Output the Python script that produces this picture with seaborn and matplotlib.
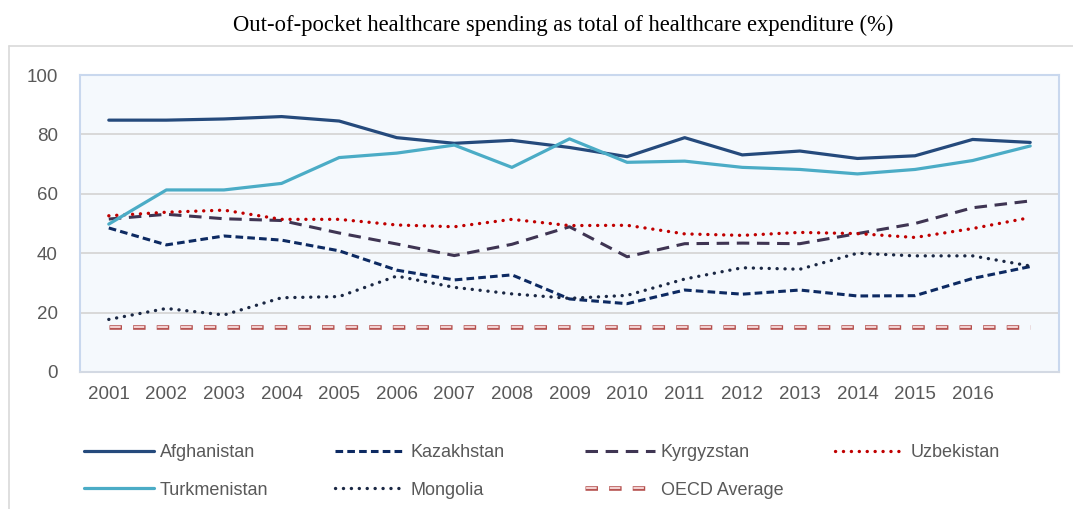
import matplotlib
matplotlib.use("Agg")
import matplotlib.pyplot as plt
from matplotlib.lines import Line2D
from matplotlib.legend_handler import HandlerTuple
import seaborn as sns
import numpy as np
import pandas as pd

# ---------------- data ----------------
years = [str(y) for y in range(2001, 2018)]
tick_labels = [str(y) for y in range(2001, 2017)] + [""]

afghanistan = [84.8, 84.8, 85.2, 86.0, 84.5, 78.9, 77.0, 78.0, 75.6, 72.5, 78.9, 73.1, 74.4, 71.9, 72.8, 78.3, 77.3]
kazakhstan = [48.5, 42.8, 45.8, 44.4, 40.8, 34.3, 31.0, 32.7, 24.6, 23.0, 27.6, 26.2, 27.6, 25.6, 25.7, 31.5, 35.5]
kyrgyzstan = [51.5, 53.1, 51.6, 51.0, 46.8, 43.1, 39.2, 43.0, 48.9, 38.8, 43.2, 43.4, 43.2, 46.6, 50.0, 55.3, 57.6]
uzbekistan = [52.6, 53.8, 54.5, 51.4, 51.4, 49.5, 48.9, 51.4, 49.3, 49.4, 46.5, 46.0, 47.0, 46.6, 45.3, 48.3, 52.0]
turkmenistan = [49.8, 61.3, 61.3, 63.5, 72.2, 73.7, 76.4, 68.9, 78.5, 70.6, 71.0, 68.9, 68.2, 66.7, 68.2, 71.2, 76.1]
mongolia = [17.7, 21.4, 19.2, 25.0, 25.4, 32.3, 28.5, 26.3, 24.8, 25.8, 31.3, 35.1, 34.6, 40.0, 39.1, 39.1, 35.7]
oecd = [15.0] * 17

title = "Out-of-pocket healthcare spending as total of healthcare expenditure (%)"

# ---------------- style ----------------
sns.set_theme(style="white")
plt.rcParams["font.family"] = ["Liberation Sans", "DejaVu Sans"]
plt.rcParams["lines.scale_dashes"] = False
TXT = "#595959"

fig = plt.figure(figsize=(10.73, 5.09), dpi=100)
ax = fig.add_axes([80 / 1073, 1 - 372 / 509, (1059 - 80) / 1073, (372 - 75) / 509])
ax.set_facecolor("#F5F9FD")

x = np.arange(len(years))

series = [
    ("Afghanistan", afghanistan, dict(color="#254A7C", linewidth=2.3, linestyle="-")),
    ("Kazakhstan", kazakhstan, dict(color="#0D2A62", linewidth=2.2, linestyle=(0, (5.5, 3)))),
    ("Kyrgyzstan", kyrgyzstan, dict(color="#3F3553", linewidth=2.2, linestyle=(0, (9, 5.5)))),
    ("Uzbekistan", uzbekistan, dict(color="#C00000", linewidth=2.4, linestyle=(0, (0.1, 5.6)), dash_capstyle="round")),
    ("Turkmenistan", turkmenistan, dict(color="#4BACC6", linewidth=2.3, linestyle="-")),
    ("Mongolia", mongolia, dict(color="#1B2844", linewidth=2.4, linestyle=(0, (0.1, 5.6)), dash_capstyle="round")),
]

handles = {}
for name, vals, kw in series:
    df = pd.DataFrame({"x": x, "y": vals})
    sns.lineplot(data=df, x="x", y="y", ax=ax, legend=False, **kw)
    handles[name] = Line2D([0], [0], **kw)

# OECD average: outlined dashes
dfo = pd.DataFrame({"x": x, "y": oecd})
outer_kw = dict(color="#B5504E", linewidth=3.3, linestyle=(0, (9, 8)), dash_capstyle="butt")
inner_kw = dict(color="#F2D0D0", linewidth=1.5, linestyle=(16.2, (7.6, 9.4)), dash_capstyle="butt")
sns.lineplot(data=dfo, x="x", y="y", ax=ax, legend=False, **outer_kw)
sns.lineplot(data=dfo, x="x", y="y", ax=ax, legend=False, **inner_kw)
handles["OECD Average"] = (Line2D([0], [0], **outer_kw), Line2D([0], [0], **inner_kw))

ax.set_xlim(-0.5, len(years) - 0.5)
ax.set_ylim(0, 100)
ax.set_xticks(x)
ax.set_xticklabels(tick_labels)
ax.set_yticks([0, 20, 40, 60, 80, 100])
ax.set_xlabel("")
ax.set_ylabel("")
ax.tick_params(axis="both", length=0, labelsize=13.5, labelcolor=TXT)
ax.tick_params(axis="y", pad=16)
ax.tick_params(axis="x", pad=10)
for yv in [20, 40, 60, 80]:
    ax.axhline(yv, color="#D9D9D9", linewidth=1.4, zorder=0.5)
for s in ["left", "right", "top"]:
    ax.spines[s].set_color("#C9D8EE")
    ax.spines[s].set_linewidth(1.5)
ax.spines["bottom"].set_color("#D3D9E3")
ax.spines["bottom"].set_linewidth(1.5)

# title
fig.text(563 / 1073, 1 - 25 / 509, title, ha="center", va="center", fontsize=16.3,
         family=["Liberation Serif", "DejaVu Serif"], color="#000000")

# outer frame lines
fig.add_artist(Line2D([9 / 1073, 1.0], [1 - 46 / 509, 1 - 46 / 509], color="#D9D9D9", linewidth=1.2))
fig.add_artist(Line2D([9 / 1073, 9 / 1073], [0, 1 - 46 / 509], color="#D9D9D9", linewidth=1.2))

# legend: 4 fixed columns
columns = [["Afghanistan", "Turkmenistan"], ["Kazakhstan", "Mongolia"],
           ["Kyrgyzstan", "OECD Average"], ["Uzbekistan"]]
col_x = [84, 335, 585, 835]
for cx, names in zip(col_x, columns):
    leg = fig.legend([handles[n] for n in names], names, loc="upper left",
                     bbox_to_anchor=(cx / 1073, 1 - 444 / 509), frameon=False,
                     fontsize=13, labelcolor=TXT, handlelength=3.9, handletextpad=0.3,
                     borderpad=0, borderaxespad=0, labelspacing=1.15,
                     handler_map={tuple: HandlerTuple(ndivide=1, pad=0)})

fig.savefig("out.png", dpi=100)
